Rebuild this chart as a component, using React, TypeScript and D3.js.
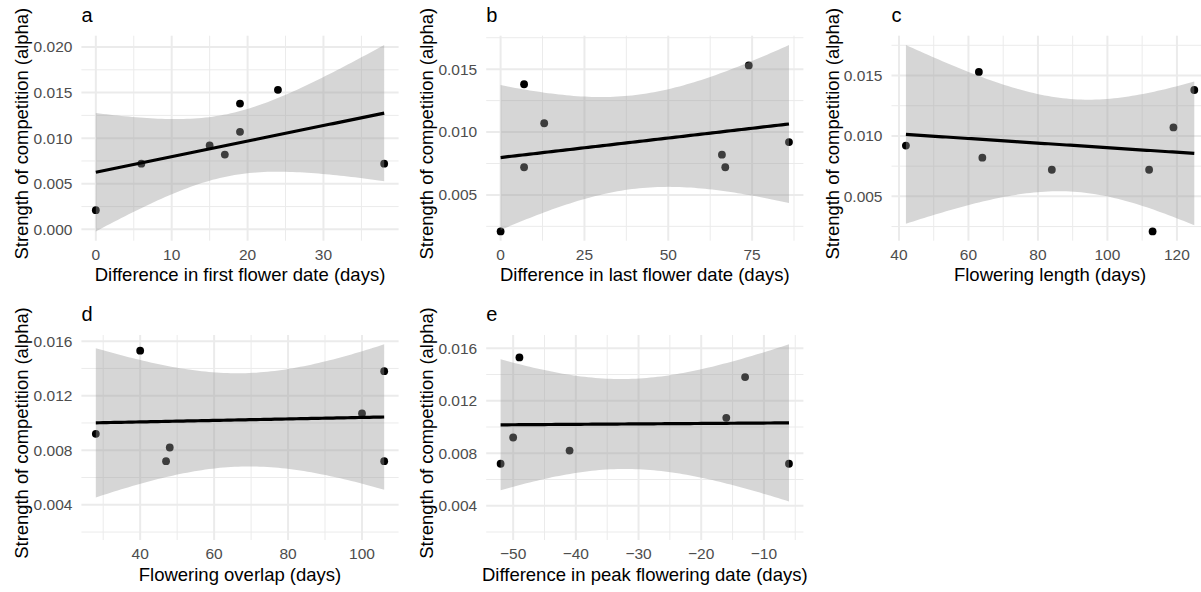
import React from "react";
import * as d3 from "d3";

// ---- data: one entry per species pair (same order in every array) ----
const alphaValues = [0.0021, 0.0072, 0.0092, 0.0082, 0.0138, 0.0107, 0.0153, 0.0072];
const firstFlowerDiff: (number | null)[] = [0, 6, 15, 17, 19, 19, 24, 38];
const lastFlowerDiff: (number | null)[] = [0, 7, 86, 66, 7, 13, 74, 67];
const floweringLength: (number | null)[] = [113, 84, 42, 64, 125, 119, 63, 112];
const floweringOverlap: (number | null)[] = [null, 47, 28, 48, 106, 100, 40, 106];
const peakFlowerDiff: (number | null)[] = [null, -52, -50, -41, -13, -16, -49, -6];

const panelTitles = ["a", "b", "c", "d", "e"];
const xTitles = [
  "Difference in first flower date (days)",
  "Difference in last flower date (days)",
  "Flowering length (days)",
  "Flowering overlap (days)",
  "Difference in peak flowering date (days)",
];
const yTitle = "Strength of competition (alpha)";

const xTicksA = [0, 10, 20, 30];
const xTicksB = [0, 25, 50, 75];
const xTicksC = [40, 60, 80, 100, 120];
const xTicksD = [40, 60, 80, 100];
const xTicksE = [-50, -40, -30, -20, -10];
const yTicksA = [0, 0.005, 0.01, 0.015, 0.02];
const yTicksB = [0.005, 0.01, 0.015];
const yTicksC = [0.005, 0.01, 0.015];
const yTicksD = [0.004, 0.008, 0.012, 0.016];
const yTicksE = [0.004, 0.008, 0.012, 0.016];

// two-sided 95% t quantiles by residual degrees of freedom
const T975: Record<number, number> = { 4: 2.776445, 5: 2.570582, 6: 2.446912, 7: 2.364624 };

// ---- layout ----
const W = 1201;
const H = 592;
const colLeft = [81.4, 486.2, 891.5];
const rowTop = [35.7, 335];
const plotW = 317.2;
const plotH = 205;
const FONT = "'Liberation Sans', Arial, Helvetica, sans-serif";

type Pt = { x: number; fit: number; lo: number; hi: number };

function fitLm(xs: number[], ys: number[]): Pt[] {
  const n = xs.length;
  const mx = d3.mean(xs) as number;
  const my = d3.mean(ys) as number;
  let sxx = 0;
  let sxy = 0;
  for (let i = 0; i < n; i++) {
    sxx += (xs[i] - mx) ** 2;
    sxy += (xs[i] - mx) * (ys[i] - my);
  }
  const b = sxy / sxx;
  const a = my - b * mx;
  let sse = 0;
  for (let i = 0; i < n; i++) sse += (ys[i] - (a + b * xs[i])) ** 2;
  const s = Math.sqrt(sse / (n - 2));
  const t = T975[n - 2];
  const [x0, x1] = d3.extent(xs) as [number, number];
  return d3.range(80).map((i) => {
    const x = x0 + ((x1 - x0) * i) / 79;
    const fit = a + b * x;
    const se = s * Math.sqrt(1 / n + (x - mx) ** 2 / sxx);
    return { x, fit, lo: fit - t * se, hi: fit + t * se };
  });
}

function expand(ext: [number, number]): [number, number] {
  const d = (ext[1] - ext[0]) * 0.05;
  return [ext[0] - d, ext[1] + d];
}

function minorBreaks(major: number[], dom: [number, number]): number[] {
  const bd = major[1] - major[0];
  let b = major.slice();
  if (dom[0] < b[0]) b = [b[0] - bd, ...b];
  if (dom[1] > b[b.length - 1]) b = [...b, b[b.length - 1] + bd];
  const out: number[] = [];
  for (let i = 0; i < b.length - 1; i++) {
    const m = (b[i] + b[i + 1]) / 2;
    if (m >= dom[0] && m <= dom[1]) out.push(m);
  }
  return out;
}

type PanelProps = {
  xsRaw: (number | null)[];
  ys: number[];
  xTicks: number[];
  yTicks: number[];
  title: string;
  xTitle: string;
  left: number;
  top: number;
};

function Panel({ xsRaw, ys, xTicks, yTicks, title, xTitle, left, top }: PanelProps) {
  const pairs = xsRaw
    .map((x, i) => ({ x, y: ys[i] }))
    .filter((p) => p.x !== null) as { x: number; y: number }[];
  const xs = pairs.map((p) => p.x);
  const yv = pairs.map((p) => p.y);
  const smooth = fitLm(xs, yv);

  const xDom = expand(d3.extent(xs) as [number, number]);
  const yAll = [...ys, ...smooth.map((d) => d.lo), ...smooth.map((d) => d.hi)];
  const yDom = expand(d3.extent(yAll) as [number, number]);

  const xS = d3.scaleLinear().domain(xDom).range([left, left + plotW]);
  const yS = d3.scaleLinear().domain(yDom).range([top + plotH, top]);

  const area = d3
    .area<Pt>()
    .x((d) => xS(d.x))
    .y0((d) => yS(d.lo))
    .y1((d) => yS(d.hi));
  const line = d3
    .line<Pt>()
    .x((d) => xS(d.x))
    .y((d) => yS(d.fit));

  const xMinor = minorBreaks(xTicks, xDom);
  const yMinor = minorBreaks(yTicks, yDom);
  const fx = d3.format("d");
  const fy = d3.format(".3f");
  const right = left + plotW;
  const bottom = top + plotH;
  const grid = "#EBEBEB";

  return (
    <g>
      {yMinor.map((v) => (
        <line key={"ym" + v} x1={left} x2={right} y1={yS(v)} y2={yS(v)} stroke={grid} strokeWidth={1} />
      ))}
      {xMinor.map((v) => (
        <line key={"xm" + v} x1={xS(v)} x2={xS(v)} y1={top} y2={bottom} stroke={grid} strokeWidth={1} />
      ))}
      {yTicks.map((v) => (
        <line key={"yM" + v} x1={left} x2={right} y1={yS(v)} y2={yS(v)} stroke={grid} strokeWidth={2} />
      ))}
      {xTicks.map((v) => (
        <line key={"xM" + v} x1={xS(v)} x2={xS(v)} y1={top} y2={bottom} stroke={grid} strokeWidth={2} />
      ))}
      {pairs.map((p, i) => (
        <circle key={"p" + i} cx={xS(p.x)} cy={yS(p.y)} r={3.9} fill="#000" />
      ))}
      <path d={area(smooth) || ""} fill="#999999" fillOpacity={0.4} />
      <path d={line(smooth) || ""} fill="none" stroke="#000" strokeWidth={3.2} />
      {yTicks.map((v) => (
        <text
          key={"yl" + v}
          x={left - 9}
          y={yS(v)}
          dy="0.35em"
          textAnchor="end"
          fontSize={15.5}
          fill="#4D4D4D"
          fontFamily={FONT}
        >
          {fy(v)}
        </text>
      ))}
      {xTicks.map((v) => (
        <text
          key={"xl" + v}
          x={xS(v)}
          y={bottom + 19}
          textAnchor="middle"
          fontSize={15.5}
          fill="#4D4D4D"
          fontFamily={FONT}
        >
          {fx(v)}
        </text>
      ))}
      <text x={(left + right) / 2} y={bottom + 40.5} textAnchor="middle" fontSize={18.5} fill="#000" fontFamily={FONT}>
        {xTitle}
      </text>
      <text
        transform={`translate(${left - 53},${top + plotH / 2 - 4.5}) rotate(-90)`}
        textAnchor="middle"
        fontSize={18.4}
        fill="#000"
        fontFamily={FONT}
      >
        {yTitle}
      </text>
      <text x={left} y={top - 14} fontSize={20} fill="#000" fontFamily={FONT}>
        {title}
      </text>
    </g>
  );
}

export default function App() {
  const panels = [
    { xs: firstFlowerDiff, xt: xTicksA, yt: yTicksA, col: 0, row: 0 },
    { xs: lastFlowerDiff, xt: xTicksB, yt: yTicksB, col: 1, row: 0 },
    { xs: floweringLength, xt: xTicksC, yt: yTicksC, col: 2, row: 0 },
    { xs: floweringOverlap, xt: xTicksD, yt: yTicksD, col: 0, row: 1 },
    { xs: peakFlowerDiff, xt: xTicksE, yt: yTicksE, col: 1, row: 1 },
  ];
  return (
    <svg
      width={W}
      height={H}
      viewBox={`0 0 ${W} ${H}`}
      style={{ position: "absolute", left: 0, top: 0, background: "#fff" }}
    >
      <rect x={0} y={0} width={W} height={H} fill="#fff" />
      {panels.map((p, i) => (
        <Panel
          key={i}
          xsRaw={p.xs}
          ys={alphaValues}
          xTicks={p.xt}
          yTicks={p.yt}
          title={panelTitles[i]}
          xTitle={xTitles[i]}
          left={colLeft[p.col]}
          top={rowTop[p.row]}
        />
      ))}
    </svg>
  );
}
